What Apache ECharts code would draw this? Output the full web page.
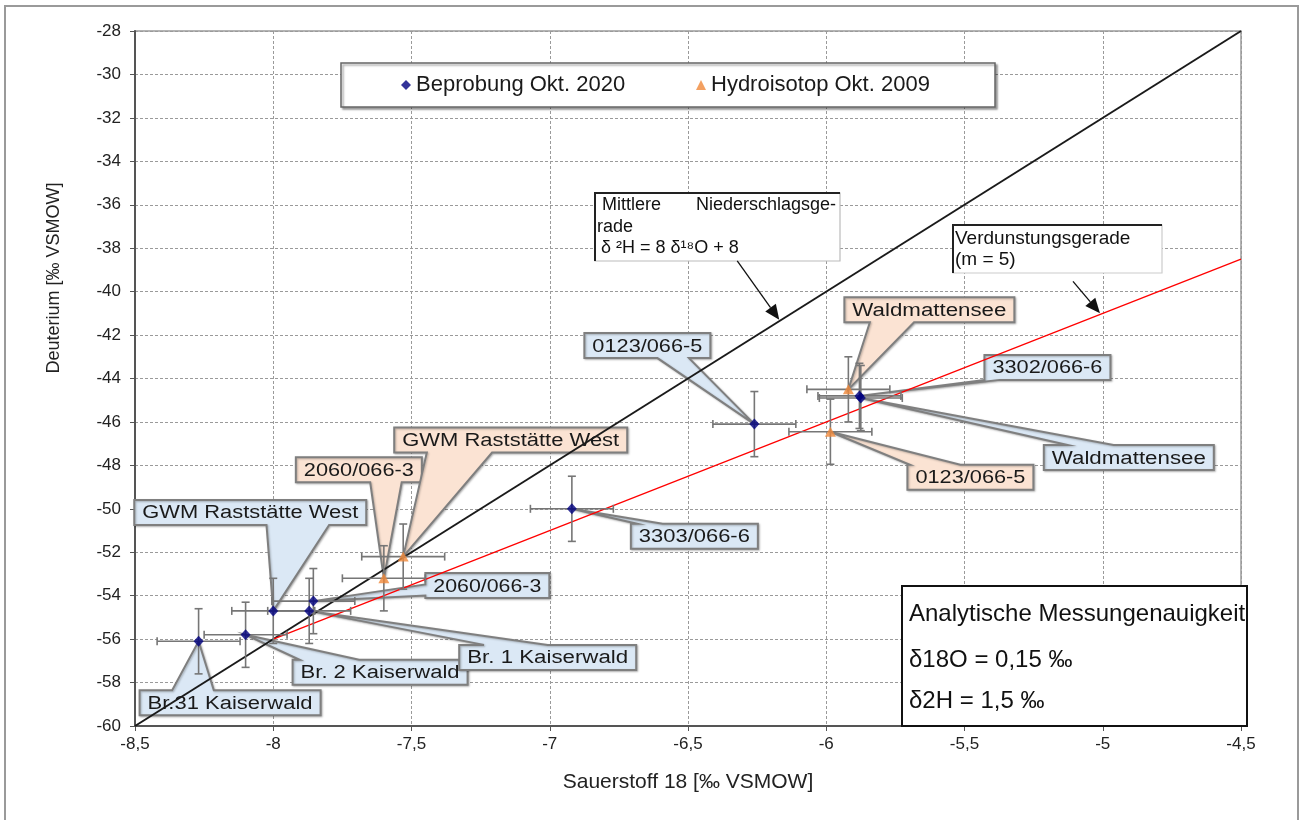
<!DOCTYPE html>
<html><head><meta charset="utf-8">
<script src="https://cdn.jsdelivr.net/npm/echarts@6/dist/echarts.min.js"></script>
<style>html,body{margin:0;padding:0;background:#fff}#c{width:1303px;height:820px}</style>
</head><body><div id="c"></div><script>
const FONT = '"Liberation Sans", Arial, sans-serif';

// ---- data ----
const names2020 = ['Br.31 Kaiserwald','Br. 2 Kaiserwald','GWM Raststätte West','Br. 1 Kaiserwald','2060/066-3','3303/066-6','0123/066-5','3302/066-6','Waldmattensee'];
const o18_2020 = [-8.27,-8.10,-8.00,-7.87,-7.855,-6.92,-6.26,-5.88,-5.875];
const h2_2020  = [-56.1,-55.8,-54.7,-54.7,-54.25,-50.0,-46.1,-44.8,-44.9];
const names2009 = ['2060/066-3','GWM Raststätte West','Waldmattensee','0123/066-5'];
const o18_2009 = [-7.60,-7.53,-5.92,-5.985];
const h2_2009  = [-53.2,-52.2,-44.5,-46.45];
const errO18 = 0.15, errH2 = 1.5;
const mwlLine  = [[-8.5,-60],[-4.5,-28]];      // δ2H = 8 δ18O + 8
const evapLine = [[-8.0,-56],[-4.5,-38.5]];    // m = 5
const mwlArrowTip  = [-6.17,-41.3];
const evapArrowTip = [-5.01,-41.0];
const legendNames = ['Beprobung Okt. 2020','Hydroisotop Okt. 2009'];
const accuracyLines = ['Analytische Messungenauigkeit','δ18O = 0,15 ‰','δ2H = 1,5 ‰'];

// ---- callout layout (pixel offsets of box top-left from the point, width, wedge edge, wedge base fractions) ----
const callout2020 = [
  [-59, 49, 181, 'top', 0.18, 0.41],
  [47, 25, 175, 'top', 0.04, 0.38],
  [-139, -111, 232, 'bottom', 0.57, 0.84],
  [150, 34, 177, 'top', 0.14, 0.5],
  [112, -28, 124, 'left', 0.45, 0.9],
  [59, 15, 127, 'top', 0.05, 0.25],
  [-170, -91, 126, 'bottom', 0.58, 0.83],
  [125, -41, 126, 'bottom', 0.0, 0.12],
  [183, 47, 170, 'top', 0.14, 0.41]
];
const callout2009 = [
  [-88, -121, 126, 'bottom', 0.59, 0.84],
  [-9, -129, 233, 'bottom', 0.14, 0.42],
  [-4, -92, 170, 'bottom', 0.15, 0.41],
  [77, 33, 126, 'top', 0.02, 0.42]
];

const mctx = document.createElement('canvas').getContext('2d');
function tw(t, size){ mctx.font = size + 'px "Liberation Sans"'; return mctx.measureText(t).width; }

function calloutRenderer(names, layout, fill){
  return function(params, api){
    const i = api.value(2);
    const p = api.coord([api.value(0), api.value(1)]);
    const L = layout[i];
    const h = 25, w = L[2];
    const x0 = p[0] + L[0], y0 = p[1] + L[1], x1 = x0 + w, y1 = y0 + h;
    const f1 = L[4], f2 = L[5];
    let pts;
    if (L[3] === 'top') pts = [[x0,y0],[x0+f1*w,y0],p,[x0+f2*w,y0],[x1,y0],[x1,y1],[x0,y1]];
    else if (L[3] === 'bottom') pts = [[x0,y0],[x1,y0],[x1,y1],[x0+f2*w,y1],p,[x0+f1*w,y1],[x0,y1]];
    else if (L[3] === 'left') pts = [[x0,y0],[x1,y0],[x1,y1],[x0,y1],[x0,y0+f2*h],p,[x0,y0+f1*h]];
    else pts = [[x0,y0],[x1,y0],[x1,y0+f1*h],p,[x1,y0+f2*h],[x1,y1],[x0,y1]];
    const text = names[i];
    const sx = Math.max(0.9, Math.min(1.25, (w - 16) / tw(text, 18)));
    return {type:'group', children:[
      {type:'polygon', shape:{points:pts}, style:{fill:fill, stroke:'#7f7f7f', lineWidth:2, lineJoin:'miter',
        shadowColor:'rgba(0,0,0,0.25)', shadowBlur:2, shadowOffsetX:1, shadowOffsetY:1}},
      {type:'text', x:(x0+x1)/2, y:(y0+y1)/2 + 1, scaleX:sx,
        style:{text:text, fontSize:18, fontFamily:FONT, fill:'#1a1a1a', align:'center', verticalAlign:'middle'}}
    ]};
  };
}

function errRenderer(params, api){
  const x = api.value(0), y = api.value(1);
  const l = api.coord([x - errO18, y]), r = api.coord([x + errO18, y]);
  const t = api.coord([x, y + errH2]), b = api.coord([x, y - errH2]);
  const c = 4;
  const st = {stroke:'#767676', lineWidth:1.6};
  const ln = (a,b2,c2,d) => ({type:'line', shape:{x1:a,y1:b2,x2:c2,y2:d}, style:st});
  return {type:'group', children:[
    ln(l[0],l[1],r[0],r[1]), ln(l[0],l[1]-c,l[0],l[1]+c), ln(r[0],r[1]-c,r[0],r[1]+c),
    ln(t[0],t[1],b[0],b[1]), ln(t[0]-c,t[1],t[0]+c,t[1]), ln(b[0]-c,b[1],b[0]+c,b[1])
  ]};
}

const d2020 = o18_2020.map((x,i) => [x, h2_2020[i], i]);
const d2009 = o18_2009.map((x,i) => [x, h2_2009[i], i]);

const chart = echarts.init(document.getElementById('c'));
const axisLbl = {fontSize:17, fontFamily:FONT, color:'#222'};
const t1w = tw(legendNames[0], 22);

chart.setOption({
  animation:false,
  backgroundColor:'#fff',
  textStyle:{fontFamily:FONT},
  grid:{left:135, right:62, top:31, bottom:94, containLabel:false, show:true, borderColor:'#9a9a9a', borderWidth:1.5, backgroundColor:'transparent'},
  xAxis:{type:'value', min:-8.5, max:-4.5, interval:0.5,
    name:'Sauerstoff 18 [‰ VSMOW]', nameLocation:'middle', nameGap:46,
    nameTextStyle:{fontSize:21, fontFamily:FONT, color:'#222'},
    axisLine:{show:true, onZero:false, lineStyle:{color:'#555', width:2}},
    axisTick:{show:true, length:5, lineStyle:{color:'#555'}},
    axisLabel:Object.assign({margin:10, formatter:v => String(v).replace('.', ',')}, axisLbl),
    splitLine:{show:true, lineStyle:{color:'#9a9a9a', type:[3,2], width:1}}},
  yAxis:{type:'value', min:-60, max:-28, interval:2,
    axisLine:{show:true, onZero:false, lineStyle:{color:'#555', width:2}},
    axisTick:{show:true, length:5, lineStyle:{color:'#555'}},
    axisLabel:Object.assign({margin:14}, axisLbl),
    splitLine:{show:true, lineStyle:{color:'#9a9a9a', type:[3,2], width:1}}},
  legend:{data:legendNames, left:401, top:74, padding:0, itemWidth:10, itemHeight:10,
    itemGap: 696 - (401 + 15 + t1w), z:12,
    textStyle:{fontSize:22, fontFamily:FONT, color:'#1a1a1a'}},
  series:[
    {type:'custom', name:'callouts2020', z:2, renderItem:calloutRenderer(names2020, callout2020, '#dbe8f5'), data:d2020, silent:true},
    {type:'custom', name:'callouts2009', z:2, renderItem:calloutRenderer(names2009, callout2009, '#fbe3d3'), data:d2009, silent:true},
    {type:'line', name:'MWL', z:3, data:mwlLine, symbol:'none', lineStyle:{color:'#1a1a1a', width:2}},
    {type:'line', name:'Verdunstung', z:3, data:evapLine, symbol:'none', lineStyle:{color:'#ff0000', width:1.3}},
    {type:'custom', name:'err2020', z:4, renderItem:errRenderer, data:d2020, silent:true},
    {type:'custom', name:'err2009', z:4, renderItem:errRenderer, data:d2009, silent:true},
    {type:'scatter', name:legendNames[0], z:5, symbol:'diamond', symbolSize:[10,11], itemStyle:{color:'#000080'}, data:d2020},
    {type:'scatter', name:legendNames[1], z:5, symbol:'triangle', symbolSize:[11,10], itemStyle:{color:'#f0883a'}, data:d2009}
  ]
});

function arrow(tipData, dx, dy){
  const tip = chart.convertToPixel({gridIndex:0}, tipData);
  const tail = [tip[0] + dx, tip[1] + dy];
  const len = Math.hypot(dx, dy), ux = -dx/len, uy = -dy/len;
  const hl = 15, hw = 6.5;
  const bx = tip[0] - ux*hl, by = tip[1] - uy*hl;
  return [
    {type:'line', z:11, shape:{x1:tail[0], y1:tail[1], x2:bx, y2:by}, style:{stroke:'#111', lineWidth:1.3}},
    {type:'polygon', z:11, shape:{points:[tip, [bx - uy*hw, by + ux*hw], [bx + uy*hw, by - ux*hw]]}, style:{fill:'#111'}}
  ];
}

const txt = (x, y, t, size, extra) => Object.assign({type:'text', z:12, x:x, y:y,
  style:Object.assign({text:t, fontSize:size, fontFamily:FONT, fill:'#111', align:'left', verticalAlign:'middle'}, extra||{})});

const g = [
  // outer frame
  {type:'rect', z:0, shape:{x:5, y:6, width:1293, height:830}, style:{fill:'none', stroke:'#9a9a9a', lineWidth:2}},
  // y axis name
  {type:'text', z:12, x:54, y:278, rotation:Math.PI/2,
    style:{text:'Deuterium [‰ VSMOW]', fontSize:18, fontFamily:FONT, fill:'#222', align:'center', verticalAlign:'middle'}},
  // legend frame
  {type:'rect', z:6, shape:{x:341, y:63, width:654, height:44}, style:{fill:'#fff', stroke:'#666', lineWidth:1.5,
    shadowColor:'rgba(0,0,0,0.35)', shadowBlur:2, shadowOffsetX:2, shadowOffsetY:2}},
  // MWL text box
  {type:'rect', z:10, shape:{x:595, y:193, width:245, height:68}, style:{fill:'#fff', stroke:'#bbb', lineWidth:1.2}},
  {type:'polyline', z:10, shape:{points:[[595,261],[595,193],[840,193]]}, style:{stroke:'#222', lineWidth:2, fill:null}},
  txt(602, 205, 'Mittlere', 18),
  txt(836, 205, 'Niederschlagsge-', 18, {align:'right'}),
  txt(597, 227, 'rade', 18),
  txt(601, 248, 'δ ²H = 8 δ¹⁸O + 8', 18),
  // evaporation text box
  {type:'rect', z:10, shape:{x:953, y:225, width:209, height:48}, style:{fill:'#fff', stroke:'#ccc', lineWidth:1.2}},
  {type:'polyline', z:10, shape:{points:[[953,273],[953,225],[1162,225]]}, style:{stroke:'#222', lineWidth:2, fill:null}},
  txt(955, 239, 'Verdunstungsgerade', 19),
  txt(955, 260, '(m = 5)', 19),
  // accuracy box
  {type:'rect', z:10, shape:{x:902, y:586, width:345, height:140}, style:{fill:'#fff', stroke:'#111', lineWidth:2}},
  txt(909, 614, accuracyLines[0], 24),
  txt(909, 660, accuracyLines[1], 24),
  txt(909, 701, accuracyLines[2], 24)
].concat(arrow(mwlArrowTip, -42, -59), arrow(evapArrowTip, -27, -32));

chart.setOption({graphic:g});
</script></body></html>
